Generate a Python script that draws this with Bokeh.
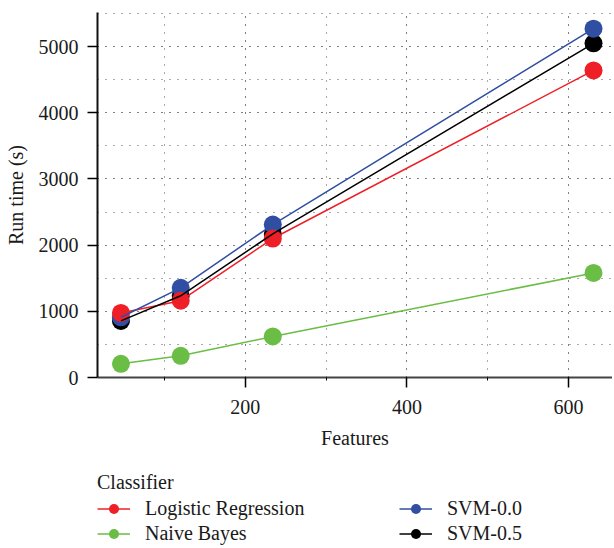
from bokeh.plotting import figure
from bokeh.layouts import column
from bokeh.models import Legend, LegendItem, SingleIntervalTicker, Range1d
from bokeh.embed import file_html
from bokeh.resources import INLINE

features = [46, 120, 234, 631]
lr = [975, 1160, 2100, 4640]
nb = [207, 328, 620, 1580]
svm00 = [910, 1355, 2310, 5270]
svm05 = [855, 1235, 2170, 5050]

names = ["Logistic Regression", "Naive Bayes", "SVM-0.0", "SVM-0.5"]
colors = {"Logistic Regression": "#EE1F27", "Naive Bayes": "#6ABD45",
          "SVM-0.0": "#304FA2", "SVM-0.5": "#000000"}
series = {"Logistic Regression": lr, "Naive Bayes": nb, "SVM-0.0": svm00, "SVM-0.5": svm05}

FONT = "Liberation Serif"
TXT = "#1a1a1a"
W = 612

p = figure(width=W, height=451, output_backend="svg", toolbar_location=None,
           x_range=Range1d(17, 654.5), y_range=Range1d(0, 5515),
           min_border_left=97, min_border_top=12, min_border_right=0, min_border_bottom=0,
           x_axis_label="Features", y_axis_label="Run time (s)")
p.outline_line_color = None

pts = {}
for n in ["SVM-0.5", "SVM-0.0", "Naive Bayes", "Logistic Regression"]:
    pts[n] = p.scatter(features, series[n], size=18, color=colors[n], line_color=None)
lns = {}
for n in ["Naive Bayes", "Logistic Regression", "SVM-0.5", "SVM-0.0"]:
    lns[n] = p.line(features, series[n], line_width=1.5, color=colors[n])

p.xaxis.ticker = SingleIntervalTicker(interval=200, num_minor_ticks=2)
p.yaxis.ticker = SingleIntervalTicker(interval=1000, num_minor_ticks=2)
for ax in (p.xaxis[0], p.yaxis[0]):
    ax.axis_line_width = 2
    ax.major_tick_line_width = 1.5
    ax.major_tick_out = 10
    ax.major_tick_in = 0
    ax.minor_tick_out = 3
    ax.minor_tick_in = 0
    ax.major_label_text_font = FONT
    ax.major_label_text_font_size = "20px"
    ax.major_label_text_color = TXT
    ax.axis_label_text_font = FONT
    ax.axis_label_text_font_size = "20px"
    ax.axis_label_text_font_style = "normal"
    ax.axis_label_text_color = TXT
p.xaxis.axis_line_color = "#444444"
p.yaxis.axis_line_color = "#111111"
p.xaxis.major_label_standoff = 12
p.yaxis.major_label_standoff = 9
p.xaxis.axis_label_standoff = 10
p.yaxis.axis_label_standoff = 9
p.yaxis.minor_tick_line_color = None

for g in (p.xgrid[0], p.ygrid[0]):
    g.grid_line_color = "#555555"
    g.grid_line_dash = "1 7"
    g.grid_line_width = 1
    g.minor_grid_line_color = "#555555"
    g.minor_grid_line_dash = "1 7"
    g.minor_grid_line_width = 1

# legend panel below the chart (its series lie outside its view range, only the key shows)
q = figure(width=W, height=95, output_backend="svg", toolbar_location=None,
           x_range=Range1d(-2, -1), y_range=Range1d(-2, -1),
           x_axis_location=None, y_axis_location=None,
           min_border_left=0, min_border_top=0, min_border_right=0, min_border_bottom=0)
q.grid.visible = False
q.outline_line_color = None
items = []
for n in names:
    ln = q.line(features, series[n], line_width=1.5, color=colors[n])
    sc = q.scatter(features, series[n], size=12, color=colors[n], line_color=None)
    items.append(LegendItem(label=n, renderers=[ln, sc]))
legend = Legend(items=items, ncols=2, orientation="vertical", location=(0, 0),
                title="Classifier", title_text_font=FONT, title_text_font_size="20px",
                title_text_font_style="normal", title_text_color=TXT, title_standoff=2,
                label_text_font=FONT, label_text_font_size="20px", label_text_color=TXT,
                glyph_width=33, glyph_height=25, label_standoff=15, label_width=254,
                label_height=25, spacing=0, padding=0, margin=0,
                border_line_color=None, background_fill_alpha=0)
q.add_layout(legend, "center")

layout = column(p, q, spacing=0)
open("out.html", "w").write(file_html(layout, INLINE))
